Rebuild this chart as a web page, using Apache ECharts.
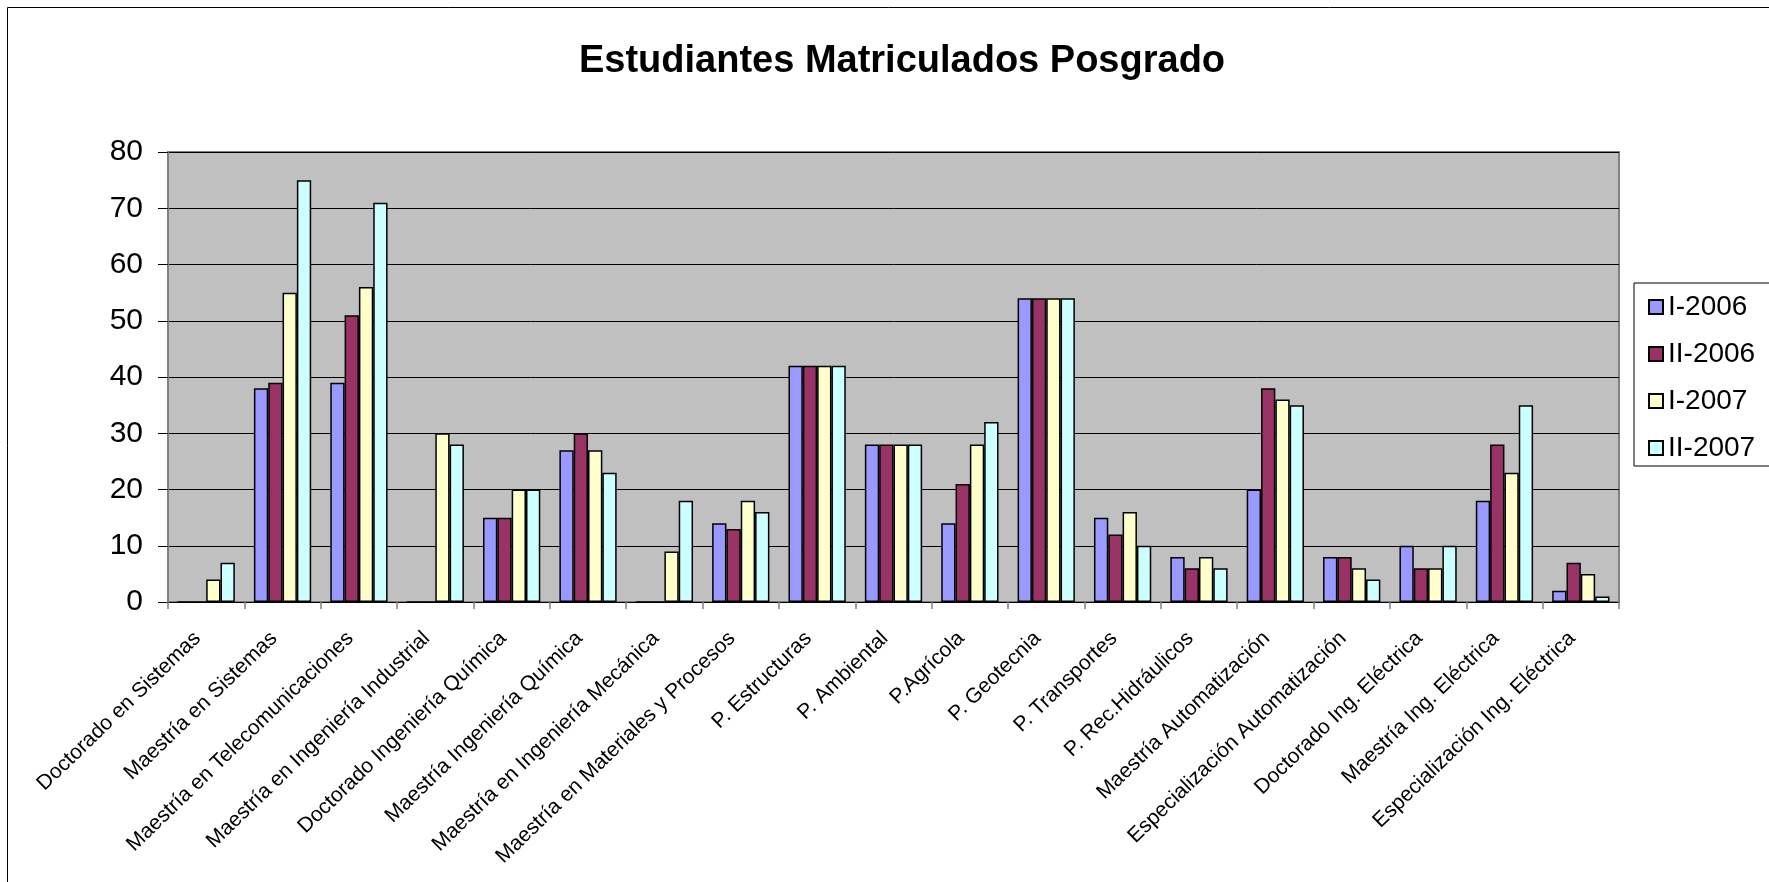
<!DOCTYPE html>
<html>
<head>
<meta charset="utf-8">
<script src="https://cdn.jsdelivr.net/npm/echarts@6/dist/echarts.min.js"></script>
<style>
  html, body { margin: 0; padding: 0; background: #fff; }
  #chart { width: 1769px; height: 882px; }
</style>
</head>
<body>
<div id="chart"></div>
<script>
const categories = [
  'Doctorado en Sistemas',
  'Maestría en Sistemas',
  'Maestría en Telecomunicaciones',
  'Maestría en Ingeniería Industrial',
  'Doctorado Ingeniería Química',
  'Maestría Ingeniería Química',
  'Maestría en Ingeniería Mecánica',
  'Maestría en Materiales y Procesos',
  'P. Estructuras',
  'P. Ambiental',
  'P.Agrícola',
  'P. Geotecnia',
  'P. Transportes',
  'P. Rec.Hidráulicos',
  'Maestría Automatización',
  'Especialización Automatización',
  'Doctorado Ing. Eléctrica',
  'Maestría Ing. Eléctrica',
  'Especialización Ing. Eléctrica'
]
const i2006  = [0, 38, 39, 0, 15, 27, 0, 14, 42, 28, 14, 54, 15, 8, 20, 8, 10, 18, 2]
const ii2006 = [0, 39, 51, 0, 15, 30, 0, 13, 42, 28, 21, 54, 12, 6, 38, 8, 6, 28, 7]
const i2007  = [4, 55, 56, 30, 20, 27, 9, 18, 42, 28, 28, 54, 16, 8, 36, 6, 6, 23, 5]
const ii2007 = [7, 75, 71, 28, 20, 23, 18, 16, 42, 28, 32, 54, 10, 6, 35, 4, 10, 35, 1]

const seriesNames = ['I-2006', 'II-2006', 'I-2007', 'II-2007']
const seriesColors = ['#9999FF', '#993366', '#FFFFCC', '#CCFFFF']
const seriesData = [i2006, ii2006, i2007, ii2007]

const font = 'Arial, "Liberation Sans", sans-serif'

let myChart = echarts.init(document.getElementById('chart'))
myChart.setOption({
  animation: false,
  backgroundColor: '#fff',
  title: {
    text: 'Estudiantes Matriculados Posgrado',
    left: 897,
    top: 38,
    textAlign: 'center',
    textStyle: {
      color: '#000',
      fontFamily: font,
      fontWeight: 'bold',
      fontSize: 38
    }
  },
  graphic: [{
    type: 'rect',
    shape: { x: 7.5, y: 7.5, width: 1800, height: 1000 },
    style: { fill: 'none', stroke: '#000', lineWidth: 1 },
    silent: true
  }],
  legend: {
    orient: 'vertical',
    left: 1634,
    top: 283,
    padding: [10, 30, 4, 14],
    itemGap: 19,
    itemWidth: 14,
    itemHeight: 14,
    icon: 'rect',
    borderColor: '#000',
    borderWidth: 1,
    backgroundColor: '#fff',
    textStyle: {
      color: '#000',
      fontFamily: font,
      fontSize: 28,
      lineHeight: 26
    },
    data: seriesNames
  },
  grid: {
    left: 168,
    right: 150,
    top: 152,
    bottom: 280,
    show: true,
    backgroundColor: '#C0C0C0',
    borderColor: '#808080',
    borderWidth: 2
  },
  xAxis: {
    type: 'category',
    data: categories,
    axisLine: { lineStyle: { color: '#000', width: 1 } },
    axisTick: {
      show: true,
      length: 7,
      lineStyle: { color: '#808080', width: 1.5 }
    },
    axisLabel: {
      interval: 0,
      rotate: 44,
      margin: 25,
      padding: [0, 12, 0, 0],
      color: '#000',
      fontFamily: font,
      fontSize: 21
    }
  },
  yAxis: {
    type: 'value',
    min: 0,
    max: 80,
    interval: 10,
    axisLine: { show: true, lineStyle: { color: '#808080', width: 2 } },
    axisTick: { show: true, length: 10, lineStyle: { color: '#000', width: 1 } },
    splitLine: { lineStyle: { color: '#000', width: 1 } },
    axisLabel: {
      margin: 25,
      color: '#000',
      fontFamily: font,
      fontSize: 30
    }
  },
  series: seriesNames.map(function (name, i) {
    return {
      name: name,
      type: 'bar',
      data: seriesData[i],
      barGap: '0%',
      barCategoryGap: '25%',
      itemStyle: {
        color: seriesColors[i],
        borderColor: '#000',
        borderWidth: 1.5
      }
    }
  })
})
</script>
</body>
</html>
